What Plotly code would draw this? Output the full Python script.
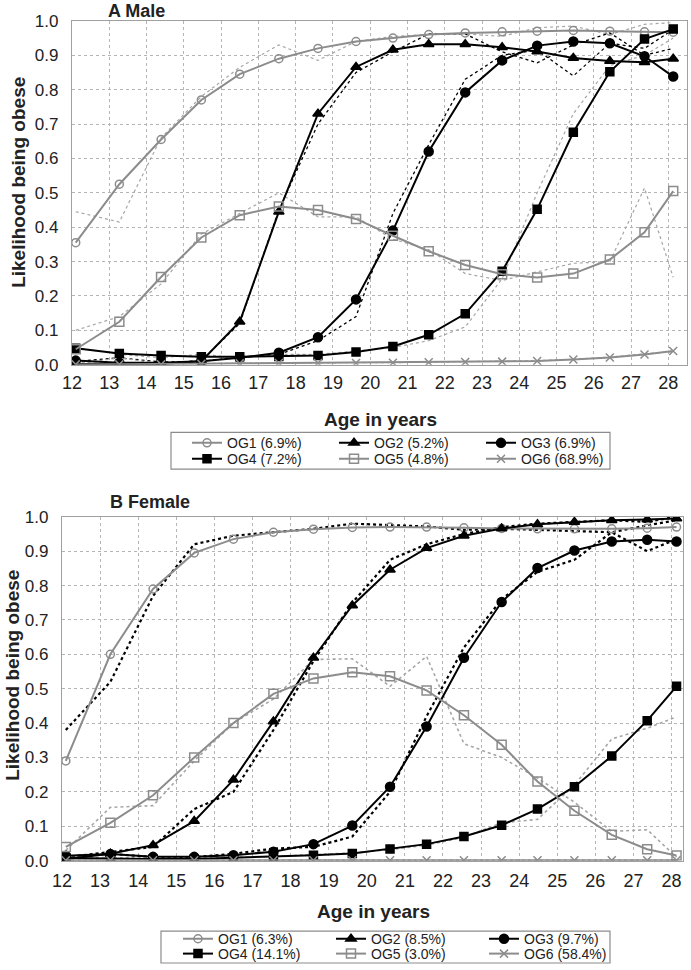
import plotly.graph_objects as go

# ---------------- data ----------------
ages = [12.1, 13.27, 14.39, 15.47, 16.5, 17.55, 18.6, 19.62, 20.61, 21.57, 22.55, 23.54, 24.48, 25.45, 26.43, 27.36, 28.13]
x_tick_vals = list(range(12, 29))
y_tick_vals = [0.0, 0.1, 0.2, 0.3, 0.4, 0.5, 0.6, 0.7, 0.8, 0.9, 1.0]

group_keys = ["OG1", "OG2", "OG3", "OG4", "OG5", "OG6"]
male_labels = ["OG1 (6.9%)", "OG2 (5.2%)", "OG3 (6.9%)", "OG4 (7.2%)", "OG5 (4.8%)", "OG6 (68.9%)"]
female_labels = ["OG1 (6.3%)", "OG2 (8.5%)", "OG3 (9.7%)", "OG4 (14.1%)", "OG5 (3.0%)", "OG6 (58.4%)"]

# Male: estimated (solid) and observed (dotted)
male_est_og1 = [0.355, 0.525, 0.655, 0.77, 0.845, 0.89, 0.92, 0.94, 0.95, 0.96, 0.965, 0.968, 0.97, 0.972, 0.97, 0.968, 0.967]
male_obs_og1 = [0.445, 0.415, 0.66, 0.78, 0.865, 0.93, 0.885, 0.94, 0.955, 0.96, 0.962, 0.955, 0.98, 0.985, 0.96, 0.99, 0.995]
male_est_og2 = [0.002, 0.002, 0.002, 0.01, 0.125, 0.445, 0.73, 0.866, 0.916, 0.932, 0.932, 0.923, 0.911, 0.892, 0.883, 0.88, 0.89]
male_obs_og2 = [0.004, 0.004, 0.003, 0.012, 0.12, 0.45, 0.70, 0.85, 0.91, 0.962, 0.962, 0.91, 0.878, 0.93, 0.965, 0.90, 0.92]
male_est_og3 = [0.012, 0.006, 0.006, 0.01, 0.02, 0.035, 0.08, 0.19, 0.39, 0.62, 0.792, 0.885, 0.928, 0.94, 0.935, 0.897, 0.838]
male_obs_og3 = [0.01, 0.02, 0.008, 0.01, 0.022, 0.03, 0.07, 0.14, 0.44, 0.64, 0.83, 0.90, 0.915, 0.84, 0.935, 0.92, 0.975]
male_est_og4 = [0.048, 0.033, 0.027, 0.023, 0.023, 0.024, 0.027, 0.037, 0.053, 0.087, 0.148, 0.272, 0.452, 0.676, 0.852, 0.947, 0.976]
male_obs_og4 = [0.05, 0.03, 0.02, 0.03, 0.02, 0.03, 0.03, 0.04, 0.05, 0.07, 0.11, 0.25, 0.50, 0.73, 0.87, 0.90, 0.95]
male_est_og5 = [0.045, 0.125, 0.255, 0.37, 0.435, 0.46, 0.45, 0.424, 0.375, 0.33, 0.29, 0.263, 0.254, 0.265, 0.306, 0.385, 0.505]
male_obs_og5 = [0.10, 0.14, 0.235, 0.38, 0.44, 0.50, 0.43, 0.43, 0.365, 0.335, 0.265, 0.245, 0.27, 0.295, 0.30, 0.514, 0.254]
male_est_og6 = [0.001, 0.001, 0.001, 0.003, 0.004, 0.005, 0.005, 0.005, 0.006, 0.007, 0.008, 0.009, 0.011, 0.015, 0.021, 0.03, 0.04]
male_obs_og6 = [0.002, 0.02, 0.003, 0.004, 0.004, 0.005, 0.005, 0.006, 0.006, 0.007, 0.008, 0.009, 0.012, 0.016, 0.022, 0.032, 0.038]

# Female
female_est_og1 = [0.29, 0.60, 0.79, 0.895, 0.935, 0.955, 0.964, 0.969, 0.97, 0.97, 0.968, 0.966, 0.965, 0.965, 0.965, 0.967, 0.97]
female_obs_og1 = [0.38, 0.52, 0.77, 0.92, 0.945, 0.955, 0.965, 0.98, 0.975, 0.972, 0.962, 0.965, 0.962, 0.958, 0.955, 0.975, 0.99]
female_est_og2 = [0.005, 0.02, 0.045, 0.115, 0.235, 0.405, 0.59, 0.742, 0.846, 0.909, 0.945, 0.966, 0.978, 0.985, 0.99, 0.992, 0.995]
female_obs_og2 = [0.01, 0.025, 0.04, 0.15, 0.20, 0.38, 0.58, 0.75, 0.875, 0.92, 0.95, 0.97, 0.98, 0.985, 0.99, 0.985, 1.0]
female_est_og3 = [0.014, 0.019, 0.011, 0.011, 0.016, 0.026, 0.048, 0.102, 0.215, 0.39, 0.59, 0.752, 0.851, 0.902, 0.928, 0.933, 0.928]
female_obs_og3 = [0.01, 0.02, 0.01, 0.01, 0.02, 0.035, 0.04, 0.07, 0.20, 0.42, 0.62, 0.76, 0.84, 0.875, 0.955, 0.90, 0.935]
female_est_og4 = [0.008, 0.006, 0.005, 0.005, 0.008, 0.011, 0.016, 0.021, 0.034, 0.048, 0.07, 0.103, 0.15, 0.215, 0.304, 0.407, 0.507]
female_obs_og4 = [0.01, 0.008, 0.006, 0.006, 0.01, 0.012, 0.018, 0.022, 0.032, 0.045, 0.068, 0.11, 0.12, 0.22, 0.354, 0.385, 0.418]
female_est_og5 = [0.04, 0.11, 0.19, 0.30, 0.40, 0.485, 0.53, 0.548, 0.536, 0.495, 0.423, 0.337, 0.23, 0.145, 0.075, 0.033, 0.015]
female_obs_og5 = [0.03, 0.155, 0.16, 0.29, 0.40, 0.47, 0.585, 0.587, 0.507, 0.594, 0.34, 0.30, 0.24, 0.17, 0.085, 0.09, 0.01]
female_est_og6 = [0.001, 0.001, 0.001, 0.001, 0.001, 0.001, 0.001, 0.001, 0.001, 0.001, 0.001, 0.001, 0.001, 0.001, 0.001, 0.001, 0.001]
female_obs_og6 = [0.001, 0.001, 0.001, 0.001, 0.001, 0.001, 0.001, 0.001, 0.001, 0.001, 0.001, 0.001, 0.001, 0.001, 0.001, 0.001, 0.001]

male_est = [male_est_og1, male_est_og2, male_est_og3, male_est_og4, male_est_og5, male_est_og6]
male_obs = [male_obs_og1, male_obs_og2, male_obs_og3, male_obs_og4, male_obs_og5, male_obs_og6]
female_est = [female_est_og1, female_est_og2, female_est_og3, female_est_og4, female_est_og5, female_est_og6]
female_obs = [female_obs_og1, female_obs_og2, female_obs_og3, female_obs_og4, female_obs_og5, female_obs_og6]

# ---------------- styles ----------------
W, H = 691, 970
GRAY = "#8c8c8c"
LGRAY = "#a6a6a6"
BLACK = "#000000"
TXT = "#222222"
FONT = "Liberation Sans, Arial, sans-serif"

line_colors = [GRAY, BLACK, BLACK, BLACK, GRAY, GRAY]
symbols = ["circle-open", "triangle-up", "circle", "square", "square-open", "x-thin-open"]
msizes = [8, 9, 9, 8, 9, 8]
obs_male_style = [(LGRAY, 1.2), (BLACK, 1.3), (BLACK, 1.3), (LGRAY, 1.2), (LGRAY, 1.2), (LGRAY, 1.2)]
obs_female_style = [(BLACK, 2.2), (BLACK, 2.2), (BLACK, 2.2), (LGRAY, 1.6), (LGRAY, 1.6), (LGRAY, 1.6)]

fig = go.Figure()

legend_rows_A = ["legend", "legend", "legend", "legend2", "legend2", "legend2"]
legend_rows_B = ["legend3", "legend3", "legend3", "legend4", "legend4", "legend4"]


def add_panel(est, obs, labels, obs_style, xa, ya, legs):
    for i in range(6):
        c, w = obs_style[i]
        fig.add_trace(go.Scatter(x=ages, y=obs[i], mode="lines", xaxis=xa, yaxis=ya,
                                 line=dict(color=c, width=w, dash="dot"), showlegend=False,
                                 hoverinfo="skip"))
    for i in range(6):
        c = line_colors[i]
        fig.add_trace(go.Scatter(
            x=ages, y=est[i], mode="lines+markers", xaxis=xa, yaxis=ya, name=labels[i],
            legend=legs[i],
            line=dict(color=c, width=2),
            marker=dict(symbol=symbols[i], size=msizes[i], color=c,
                        line=dict(color=c, width=1.5)),
        ))


add_panel(male_est, male_obs, male_labels, obs_male_style, "x", "y", legend_rows_A)
add_panel(female_est, female_obs, female_labels, obs_female_style, "x2", "y2", legend_rows_B)


def px_x(p):
    return p / W


def px_y(p):
    return 1 - p / H


# plot areas in page pixels (left, right, top, bottom)
A_box = (72, 687, 21, 367)
B_box = (62, 683, 520, 866)

axis_common = dict(showline=True, mirror=True, linecolor="#a0a0a0", linewidth=1.2,
                   showgrid=True, gridcolor="#b4b4b4", griddash="dot", gridwidth=1,
                   zeroline=False, ticks="", automargin=False)
xfont = dict(family=FONT, size=18, color=TXT)
yfont = dict(family=FONT, size=17, color=TXT)

fig.update_layout(
    width=W, height=H, margin=dict(l=0, r=0, t=0, b=0),
    paper_bgcolor="white", plot_bgcolor="white",
    font=dict(family=FONT, color=TXT),
    xaxis=dict(domain=[px_x(A_box[0]), px_x(A_box[1])], range=[12, 28.5],
               tickvals=x_tick_vals, anchor="y", tickfont=xfont, ticklabelstandoff=2, **axis_common),
    yaxis=dict(domain=[px_y(A_box[3]), px_y(A_box[2])], range=[0, 1.0],
               tickvals=y_tick_vals, tickformat=".1f", anchor="x", tickfont=yfont,
               ticklabelstandoff=9, **axis_common),
    xaxis2=dict(domain=[px_x(B_box[0]), px_x(B_box[1])], range=[12, 28.3],
                tickvals=x_tick_vals, anchor="y2", tickfont=xfont, ticklabelstandoff=4, **axis_common),
    yaxis2=dict(domain=[px_y(B_box[3]), px_y(B_box[2])], range=[0, 1.0],
                tickvals=y_tick_vals, tickformat=".1f", anchor="x2", tickfont=yfont,
                ticklabelstandoff=9, **axis_common),
    showlegend=True,
)

leg_common = dict(orientation="h", bgcolor="rgba(0,0,0,0)", borderwidth=0,
                  font=dict(family=FONT, size=14, color=TXT),
                  tracegroupgap=0, entrywidthmode="pixels",
                  xanchor="left", yanchor="middle", itemsizing="trace")
fig.update_layout(
    legend=dict(x=px_x(187), y=px_y(446), entrywidth=102, **leg_common),
    legend2=dict(x=px_x(187), y=px_y(462), entrywidth=102, **leg_common),
    legend3=dict(x=px_x(178), y=px_y(945), entrywidth=108, **leg_common),
    legend4=dict(x=px_x(178), y=px_y(960), entrywidth=108, **leg_common),
)

# legend boxes
fig.add_shape(type="rect", xref="paper", yref="paper", x0=px_x(171), x1=px_x(610),
              y0=px_y(472), y1=px_y(435), line=dict(color="#8c8c8c", width=1.2))
fig.add_shape(type="rect", xref="paper", yref="paper", x0=px_x(161), x1=px_x(610),
              y0=px_y(969), y1=px_y(937), line=dict(color="#8c8c8c", width=1.2))

# titles
ann = []
ann.append(dict(text="<b>A Male</b>", x=px_x(106), y=px_y(-1), xanchor="left", yanchor="top",
                font=dict(size=18, family=FONT, color=TXT)))
ann.append(dict(text="<b>B Female</b>", x=px_x(108), y=px_y(505), xanchor="left", yanchor="middle",
                font=dict(size=18, family=FONT, color=TXT)))
ann.append(dict(text="<b>Age in years</b>", x=px_x(380), y=px_y(422), xanchor="center", yanchor="middle",
                font=dict(size=19, family=FONT, color=TXT)))
ann.append(dict(text="<b>Age in years</b>", x=px_x(373), y=px_y(917), xanchor="center", yanchor="middle",
                font=dict(size=19, family=FONT, color=TXT)))
ann.append(dict(text="<b>Likelihood being obese</b>", x=px_x(19), y=px_y(184), textangle=-90,
                xanchor="center", yanchor="middle", font=dict(size=19, family=FONT, color=TXT)))
ann.append(dict(text="<b>Likelihood being obese</b>", x=px_x(13), y=px_y(680), textangle=-90,
                xanchor="center", yanchor="middle", font=dict(size=19, family=FONT, color=TXT)))
for a in ann:
    a.update(xref="paper", yref="paper", showarrow=False)
fig.update_layout(annotations=ann)

# remove the default 8px page margin so the figure fills the 691x970 window exactly
fig.write_html("out.html", config={"displayModeBar": False},
               post_script="document.body.style.margin='0px';document.body.style.overflow='hidden';")
